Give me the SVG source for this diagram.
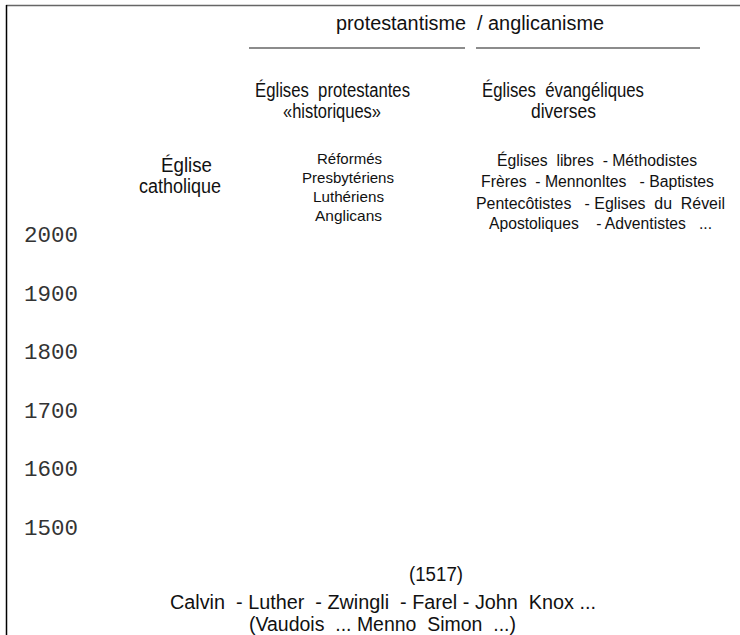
<svg xmlns="http://www.w3.org/2000/svg" width="740" height="635" viewBox="0 0 740 635">
<style>
.t{font-family:"Liberation Sans Narrow","Arial Narrow","Liberation Sans",Arial,sans-serif;fill:#111;white-space:pre}
.l{font-size:20px}
.s{font-size:15px}
.m{font-size:16px}
.y{font-family:"Liberation Mono","DejaVu Sans Mono",monospace;font-size:22px;fill:#333}
.rule{stroke:#666;stroke-width:1.5;fill:none}
</style>
<rect width="740" height="635" fill="#fff"/>
<g id="frame">
<line class="rule" x1="6" y1="5.5" x2="740" y2="5.5"/>
<line x1="6.5" y1="5" x2="6.5" y2="635" stroke="#000" stroke-width="1.5"/>
</g>
<g id="connectors">
<line class="rule" x1="249" y1="48" x2="465" y2="48"/>
<line class="rule" x1="476" y1="48" x2="700" y2="48"/>
</g>
<g id="header">
<text class="t l" x="336" y="30" textLength="130" lengthAdjust="spacingAndGlyphs">protestantisme</text>
<text class="t l" x="477" y="30" textLength="127" lengthAdjust="spacingAndGlyphs">/ anglicanisme</text>
</g>
<g id="protestantes">
<text class="t l" x="255" y="97" textLength="155" lengthAdjust="spacingAndGlyphs">Églises  protestantes</text>
<text class="t l" x="283" y="118" textLength="98" lengthAdjust="spacingAndGlyphs">«historiques»</text>
<text class="t s" x="317" y="164" textLength="65" lengthAdjust="spacingAndGlyphs">Réformés</text>
<text class="t s" x="302" y="183" textLength="92" lengthAdjust="spacingAndGlyphs">Presbytériens</text>
<text class="t s" x="313" y="202" textLength="71" lengthAdjust="spacingAndGlyphs">Luthériens</text>
<text class="t s" x="315" y="221" textLength="67" lengthAdjust="spacingAndGlyphs">Anglicans</text>
</g>
<g id="evangeliques">
<text class="t l" x="482" y="97" textLength="162" lengthAdjust="spacingAndGlyphs">Églises  évangéliques</text>
<text class="t l" x="531" y="118" textLength="65" lengthAdjust="spacingAndGlyphs">diverses</text>
<text class="t m" x="497" y="166" textLength="200" lengthAdjust="spacingAndGlyphs">Églises  libres  - Méthodistes</text>
<text class="t m" x="481" y="187" textLength="233" lengthAdjust="spacingAndGlyphs">Frères  - Mennonltes   - Baptistes</text>
<text class="t m" x="476" y="209" textLength="249" lengthAdjust="spacingAndGlyphs">Pentecôtistes   - Eglises  du  Réveil</text>
<text class="t m" x="489" y="229" textLength="223" lengthAdjust="spacingAndGlyphs">Apostoliques    - Adventistes   ...</text>
</g>
<g id="catholique">
<text class="t l" x="161" y="172" textLength="51" lengthAdjust="spacingAndGlyphs">Église</text>
<text class="t l" x="139" y="193" textLength="82" lengthAdjust="spacingAndGlyphs">catholique</text>
</g>
<g id="years">
<text class="y" x="24" y="242" textLength="54" lengthAdjust="spacingAndGlyphs">2000</text>
<text class="y" x="24" y="301" textLength="54" lengthAdjust="spacingAndGlyphs">1900</text>
<text class="y" x="24" y="359" textLength="54" lengthAdjust="spacingAndGlyphs">1800</text>
<text class="y" x="24" y="418" textLength="54" lengthAdjust="spacingAndGlyphs">1700</text>
<text class="y" x="24" y="476" textLength="54" lengthAdjust="spacingAndGlyphs">1600</text>
<text class="y" x="24" y="535" textLength="54" lengthAdjust="spacingAndGlyphs">1500</text>
</g>
<g id="origins">
<text class="t l" x="409" y="581" textLength="54" lengthAdjust="spacingAndGlyphs">(1517)</text>
<text class="t l" x="170" y="609" textLength="426" lengthAdjust="spacingAndGlyphs">Calvin  - Luther  - Zwingli  - Farel - John  Knox ...</text>
<text class="t l" x="249" y="631" textLength="267" lengthAdjust="spacingAndGlyphs">(Vaudois  ... Menno  Simon  ...)</text>
</g>
</svg>
